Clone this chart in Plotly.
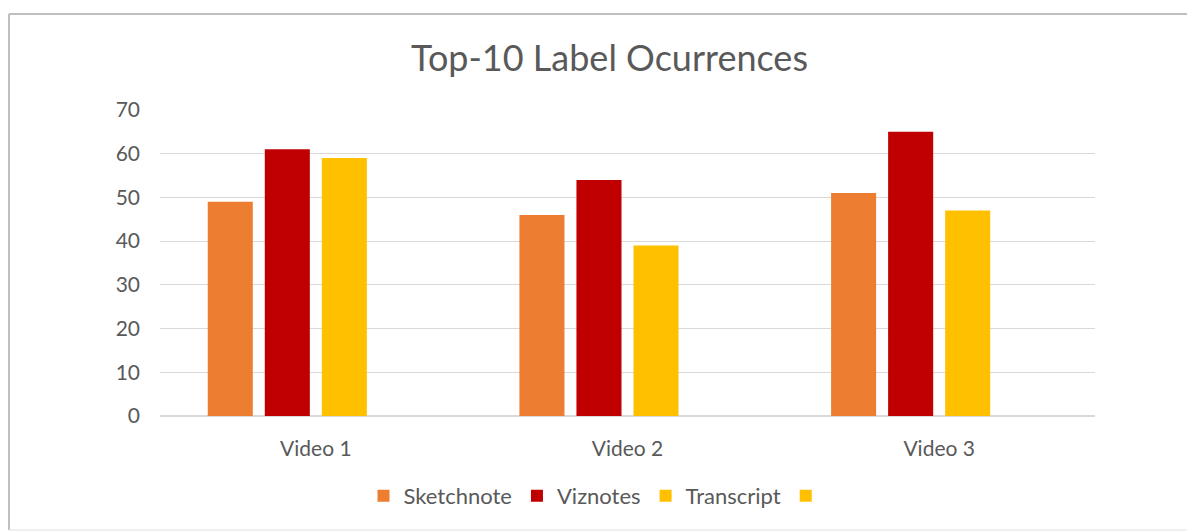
import plotly.graph_objects as go

categories = ["Video 1", "Video 2", "Video 3"]
sketchnote = [49, 46, 51]
viznotes = [61, 54, 65]
transcript = [59, 39, 47]
unnamed = [None, None, None]

series_names = ["Sketchnote", "Viznotes", "Transcript", " "]
series_values = [sketchnote, viznotes, transcript, unnamed]
series_colors = ["#ED7D31", "#C00000", "#FFC000", "#FFC000"]

W, H = 1187, 531
L, R, T, B = 160, 92, 110, 115
pw, ph = W - L - R, H - T - B

fig = go.Figure()
for name, vals, col in zip(series_names, series_values, series_colors):
    fig.add_trace(go.Bar(name=name, x=categories, y=vals, marker_color=col,
                         marker_line_width=0))

def px(x):
    return (x - L) / pw

def py(y):
    return (H - B - y) / ph

border = dict(color="#BFBFBF", width=2)
shapes = [
    dict(type="line", xref="paper", yref="paper", x0=px(9), x1=px(1187), y0=py(14), y1=py(14), line=border),
    dict(type="line", xref="paper", yref="paper", x0=px(9), x1=px(9), y0=py(14), y1=py(530), line=border),
    dict(type="line", xref="paper", yref="paper", x0=px(9), x1=px(1187), y0=py(530), y1=py(530), line=dict(color="#E0E0E0", width=1)),
]

fig.update_layout(
    width=W, height=H,
    margin=dict(l=L, r=R, t=T, b=B),
    paper_bgcolor="white", plot_bgcolor="white",
    font=dict(family="Lato, Carlito, sans-serif", color="#595959", size=21),
    title=dict(text="Top-10 Label Ocurrences", x=609.5 / W, xanchor="center",
               y=1 - 58 / H, yanchor="middle", font=dict(size=36, color="#595959")),
    barmode="group", bargap=0.268, bargroupgap=0.21,
    showlegend=True,
    legend=dict(orientation="h", x=px(600), xanchor="center", y=py(496), yanchor="middle",
                font=dict(size=22, color="#595959"), traceorder="normal"),
    shapes=shapes,
)
fig.update_yaxes(range=[0, 70], dtick=10, showgrid=True, gridcolor="#D9D9D9", gridwidth=1,
                 zeroline=True, zerolinecolor="#D9D9D9", showline=False,
                 ticklabelstandoff=19, tickfont=dict(size=21))
fig.update_xaxes(showline=True, linecolor="#D9D9D9", linewidth=1, ticks="",
                 ticklabelstandoff=14, tickfont=dict(size=21))

fig.write_html("out.html")
